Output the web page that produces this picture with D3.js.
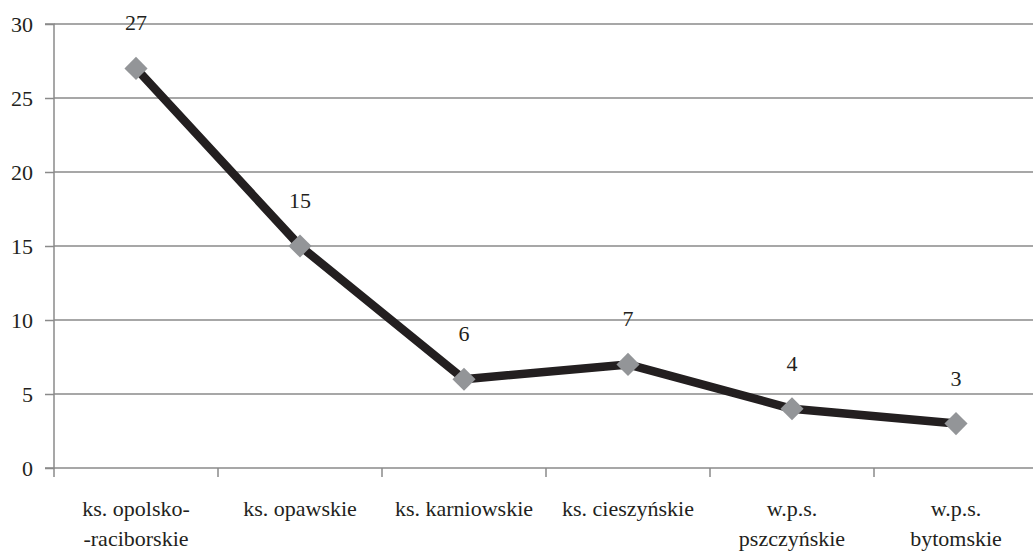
<!DOCTYPE html>
<html><head><meta charset="utf-8">
<script src="https://cdn.jsdelivr.net/npm/d3@7"></script>
<style>body{margin:0;background:#fff}svg{display:block;font-family:"Liberation Serif"}</style>
</head><body>
<svg id="c" width="1033" height="551" font-family="Liberation Serif"></svg>
<script>
const categories = [["ks. opolsko-","-raciborskie"],["ks. opawskie"],["ks. karniowskie"],["ks. cieszyńskie"],["w.p.s.","pszczyńskie"],["w.p.s.","bytomskie"]];
const values = [27, 15, 6, 7, 4, 3];
const yTicks = [0, 5, 10, 15, 20, 25, 30];

(function(){
const svg = d3.select("#c");
const FONT = "Liberation Serif";
const textColor = "#231f20";
const gridColor = "#8a8a8a";
const pLeft = 54, pRight = 1038, pTop = 24, pBottom = 468;

const x = d3.scaleBand().domain(d3.range(values.length)).range([pLeft, pRight]);
const y = d3.scaleLinear().domain([0, 30]).range([pBottom, pTop]);

// gridlines
svg.append("g").selectAll("line").data(yTicks.filter(d => d > 0)).join("line")
  .attr("x1", pLeft).attr("x2", 1033)
  .attr("y1", d => y(d)).attr("y2", d => y(d))
  .attr("stroke", gridColor).attr("stroke-width", 1.5);

// y axis
const ya = svg.append("g").attr("transform", `translate(${pLeft},0)`)
  .call(d3.axisLeft(y).tickValues(yTicks).tickSize(9).tickPadding(12));
ya.attr("font-family", FONT).attr("font-size", 22);
ya.select(".domain").attr("stroke", gridColor).attr("stroke-width", 1.5).attr("d", `M-9,${pBottom}H0V${pTop}H-9`);
ya.selectAll(".tick line").attr("stroke", gridColor).attr("stroke-width", 1.5);
ya.selectAll(".tick text").attr("fill", textColor)
  .attr("font-family", FONT).attr("font-size", 22);

// x axis
const xa = svg.append("g").attr("transform", `translate(0,${pBottom})`)
  .attr("font-family", FONT).attr("font-size", 22);
xa.append("line").attr("x1", pLeft).attr("x2", 1033).attr("y1", 0).attr("y2", 0)
  .attr("stroke", gridColor).attr("stroke-width", 1.5);
xa.selectAll("line.tk").data(d3.range(values.length + 1)).join("line").attr("class", "tk")
  .attr("x1", d => pLeft + d * x.step()).attr("x2", d => pLeft + d * x.step())
  .attr("y1", 0).attr("y2", 9).attr("stroke", gridColor).attr("stroke-width", 1.5);

const lbl = xa.selectAll("text.cat").data(categories).join("text").attr("class", "cat")
  .attr("x", (d, i) => x(i) + x.bandwidth() / 2)
  .attr("text-anchor", "middle").attr("fill", textColor)
  .attr("font-family", FONT).attr("font-size", 22);
lbl.selectAll("tspan").data(d => d).join("tspan")
  .attr("x", function(){ return this.parentNode.getAttribute("x"); })
  .attr("y", (d, j) => 48 + j * 30)
  .attr("font-family", FONT)
  .text(d => d);

// line
const line = d3.line().x((d, i) => x(i) + x.bandwidth() / 2).y(d => y(d));
svg.append("path").datum(values).attr("d", line)
  .attr("fill", "none").attr("stroke", "#231f20").attr("stroke-width", 8.5).attr("stroke-linejoin", "round");

// markers
svg.append("g").selectAll("path").data(values).join("path")
  .attr("transform", (d, i) => `translate(${x(i) + x.bandwidth() / 2},${y(d)})`)
  .attr("d", d3.symbol().type(d3.symbolDiamond2).size(340))
  .attr("fill", "#939598");

// data labels
svg.append("g").attr("font-family", FONT).attr("font-size", 22)
  .selectAll("text").data(values).join("text")
  .attr("x", (d, i) => x(i) + x.bandwidth() / 2)
  .attr("y", d => y(d) - 38)
  .attr("text-anchor", "middle").attr("fill", textColor)
  .attr("font-family", FONT).attr("font-size", 22)
  .text(d => d);
})();
</script>
</body></html>
